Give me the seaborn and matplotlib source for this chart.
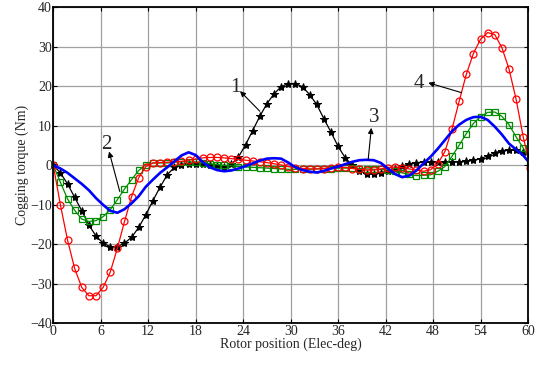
import matplotlib
matplotlib.use("Agg")
import matplotlib.pyplot as plt
import numpy as np
import seaborn as sns

# rotor position samples, 0.9 elec-deg apart (last one falls just past 60 and is clipped)
pos = np.arange(68) * 0.9

# 1 - black stars
curve_1 = [0, -1.9, -4.7, -8.1, -11.5, -15.1, -17.9, -19.7, -20.6, -20.6,
           -19.7, -18.2, -15.7, -12.5, -8.9, -5.5, -2.4, -0.5, 0.2, 0.4,
           0.4, 0.3, 0.1, -0.2, -0.4, 0.3, 2.1, 5.2, 8.8, 12.4,
           15.6, 18.1, 19.9, 20.7, 20.7, 19.9, 17.9, 15.4, 11.8, 8.4,
           4.8, 1.9, 0.0, -1.5, -2.1, -2.2, -1.9, -1.4, -0.8, -0.2,
           0.4, 0.7, 0.8, 0.8, 0.8, 0.8, 0.9, 0.9, 1.0, 1.3,
           1.7, 2.4, 3.2, 3.7, 3.9, 3.8, 3.3, 2.8]

# 2 - green squares
curve_2 = [0, -4.3, -8.5, -11.4, -13.6, -14.2, -14.0, -13.0, -11.2, -8.7,
           -6.0, -3.6, -1.3, 0.2, 0.6, 0.6, 0.6, 0.8, 0.9, 0.9,
           0.8, 0.6, 0.4, 0.2, 0.0, -0.1, -0.3, -0.4, -0.5, -0.6,
           -0.7, -0.8, -0.9, -1.0, -1.0, -1.0, -1.0, -0.9, -0.8, -0.8,
           -0.7, -0.7, -0.7, -0.8, -0.9, -1.0, -1.0, -1.2, -1.5, -1.9,
           -2.3, -2.6, -2.5, -2.4, -1.5, -0.3, 2.3, 5.1, 8.0, 10.6,
           12.3, 13.4, 13.5, 12.4, 10.3, 7.2, 4.4, 1.0]

# 3 - blue solid line
curve_3 = [0, -0.8, -1.9, -3.3, -4.7, -6.3, -8.3, -10.0, -11.5, -12.0,
           -11.1, -9.6, -7.8, -5.4, -3.6, -1.9, -0.5, 1.0, 2.5, 3.3,
           2.6, 0.8, -0.5, -1.2, -1.5, -1.3, -0.8, -0.2, 0.5, 1.2,
           1.7, 1.8, 1.7, 0.7, -0.5, -1.2, -1.6, -1.8, -1.4, -0.8,
           -0.3, 0.3, 0.9, 1.3, 1.4, 1.3, 0.6, -0.8, -2.2, -3.0,
           -2.6, -1.3, 0.5, 2.2, 4.2, 6.4, 8.6, 10.3, 11.5, 12.2,
           12.3, 11.5, 9.8, 7.8, 5.5, 4.0, 2.5, 0.4]

# 4 - red circles
curve_4 = [0, -10.0, -18.9, -26.1, -30.9, -33.0, -33.0, -30.9, -27.0, -21.0,
           -14.2, -7.9, -3.1, -0.3, 0.6, 0.7, 0.8, 0.9, 1.0, 1.3,
           1.6, 1.9, 2.0, 2.0, 1.9, 1.7, 1.5, 1.3, 1.1, 0.9,
           0.7, 0.4, 0.1, -0.3, -0.6, -0.8, -0.9, -0.9, -0.8, -0.6,
           -0.5, -0.5, -0.8, -1.0, -1.2, -1.2, -0.9, -0.6, -0.4, -0.6,
           -0.9, -1.2, -1.5, -1.1, 0.4, 3.5, 9.2, 16.2, 23.0, 28.3,
           31.9, 33.6, 33.1, 29.8, 24.4, 16.7, 7.2, -0.6]

x_ticks = list(range(0, 61, 6))
y_ticks = list(range(-40, 41, 10))

sns.set_style("ticks")
plt.rcParams['font.family'] = ['Liberation Serif', 'DejaVu Serif']

fig = plt.figure(figsize=(5.46, 3.65), dpi=100)
ax = fig.add_axes([0.0976, 0.114, 0.8694, 0.866])

ax.grid(True, color='#a0a0a0', linewidth=0.9, linestyle='-')
ax.set_axisbelow(True)

sns.lineplot(x=pos, y=curve_1, ax=ax, color='black', linewidth=0.9,
             marker='*', markersize=6, markeredgecolor='black',
             markerfacecolor='black', sort=False, estimator=None)
sns.lineplot(x=pos, y=curve_2, ax=ax, color='#008c00', linewidth=0.9,
             marker='s', markersize=4.5, markeredgecolor='#008c00',
             markerfacecolor='none', markeredgewidth=0.9,
             sort=False, estimator=None)
sns.lineplot(x=pos, y=curve_4, ax=ax, color='#ff0000', linewidth=0.9,
             marker='o', markersize=5, markeredgecolor='#ff0000',
             markerfacecolor='none', markeredgewidth=0.9,
             sort=False, estimator=None)
sns.lineplot(x=pos, y=curve_3, ax=ax, color='#0000ff', linewidth=1.9,
             sort=False, estimator=None)

ax.set_xlim(0, 60)
ax.set_ylim(-40, 40)
ax.set_xticks(x_ticks)
ax.set_yticks(y_ticks)
ax.tick_params(direction='in', top=True, right=True, length=3,
               labelsize=10, pad=1, color='black')
for s in ax.spines.values():
    s.set_linewidth(1.3)
    s.set_color('black')

ax.set_xlabel('Rotor position (Elec-deg)', fontsize=10, labelpad=0)
ax.set_ylabel('Cogging torque (Nm)', fontsize=10, labelpad=1)

arrow = dict(arrowstyle='-|>', color='black', lw=0.8,
             mutation_scale=8, shrinkA=0, shrinkB=0)
ax.annotate('', xy=(23.6, 18.8), xytext=(26.1, 13.7), arrowprops=arrow)
ax.text(23.0, 19.7, '1', fontsize=15, ha='center', va='center')
ax.annotate('', xy=(7.05, 3.5), xytext=(8.4, -6.6), arrowprops=arrow)
ax.text(6.75, 5.4, '2', fontsize=15, ha='center', va='center')
ax.annotate('', xy=(40.2, 9.5), xytext=(39.8, 1.4), arrowprops=arrow)
ax.text(40.5, 12.0, '3', fontsize=15, ha='center', va='center')
ax.annotate('', xy=(47.4, 20.9), xytext=(51.6, 18.4), arrowprops=arrow)
ax.text(46.2, 20.6, '4', fontsize=15, ha='center', va='center')

fig.savefig('out.png', dpi=100)
